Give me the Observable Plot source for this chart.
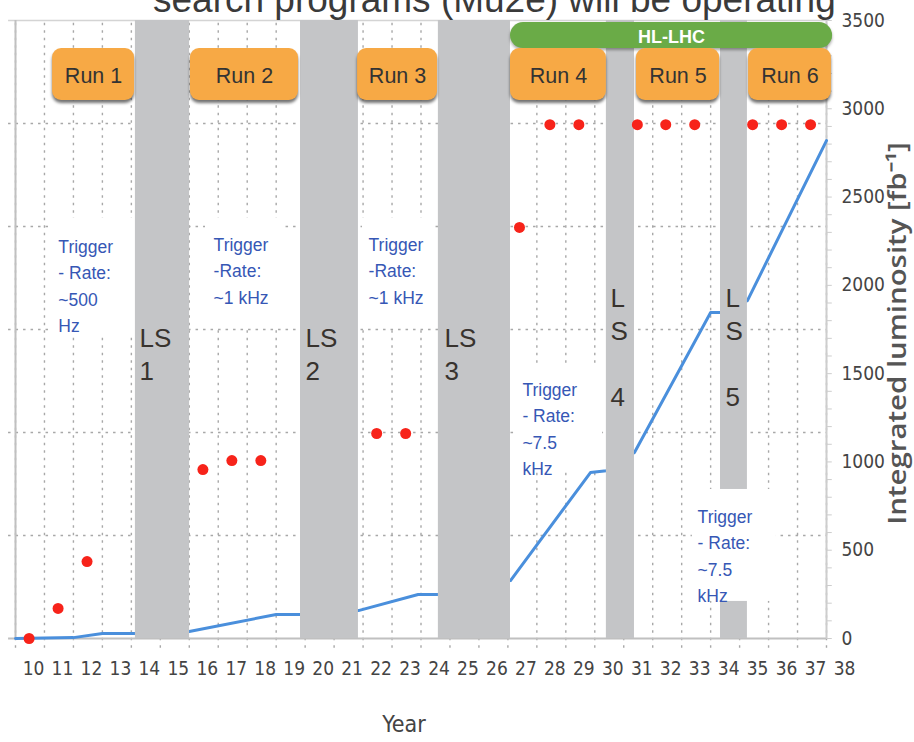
<!DOCTYPE html>
<html><head><meta charset="utf-8">
<script src="https://cdn.jsdelivr.net/npm/d3@7"></script>
<script src="https://cdn.jsdelivr.net/npm/@observablehq/plot@0.6"></script>
<style>
body{margin:0;background:#fff;width:914px;height:742px;overflow:hidden;position:relative;font-family:"Liberation Sans",Arial,sans-serif}
#title{position:absolute;left:153px;top:-19px;font-size:37px;line-height:37px;color:#3a3a3a;white-space:nowrap;z-index:2}
#chart{position:absolute;left:0;top:0}
</style></head><body>
<div id="title">search programs (Mu2e) will be operating</div>
<div id="chart"></div>
<script>
// ---- axis ticks ----
const yearTicks = [10,11,12,13,14,15,16,17,18,19,20,21,22,23,24,25,26,27,28,29,30,31,32,33,34,35,36,37,38];
const lumiTicks = [0,500,1000,1500,2000,2500,3000,3500];
const gridValues = [583.3,1166.7,1750,2333.3,2916.7];

// ---- integrated luminosity (fb^-1) ----
const lumiYear  = [10, 12, 13, 14.14, 16.0, 19.0, 19.84, 21.84, 23.9, 24.6, 27.09, 29.85, 30.4, 31.37, 34.0, 34.34, 35.27, 38];
const lumiValue = [0, 5, 28, 28, 40, 136, 136, 158, 249, 249, 328, 940, 950, 1053, 1846, 1846, 1914, 2820];

// ---- red dots ----
const dotYear  = [10.47, 11.47, 12.47, 16.47, 17.47, 18.47, 22.47, 23.47, 27.4, 28.45, 29.45, 31.47, 32.45, 33.45, 35.45, 36.45, 37.45];
const dotValue = [0, 170, 436, 957, 1008, 1008, 1161, 1161, 2328, 2910, 2910, 2910, 2910, 2910, 2910, 2910, 2910];

// ---- long shutdowns ----
const lsLabel = ["LS\n1", "LS\n2", "LS\n3", "L\nS\n\n4", "L\nS\n\n5"];
const lsStart = [14.14, 19.84, 24.6, 30.4, 34.34];
const lsEnd   = [16.01, 21.84, 27.09, 31.37, 35.27];
const lsTextX = [14.28, 20.01, 24.81, 30.54, 34.51];
const lsTextY = [1784, 1784, 1784, 2010, 2010];

// ---- runs ----
const runLabel = ["Run 1", "Run 2", "Run 3", "Run 4", "Run 5", "Run 6"];
const runStart = [11.28, 16.04, 21.81, 27.09, 31.44, 35.31];
const runEnd   = [14.11, 19.77, 24.57, 30.40, 34.31, 38.17];
const runBottom = 3047, runTop = 3341, runMid = 3183;
const hlLabel = ["HL-LHC"];
const hlStart = [27.09], hlEnd = [38.21], hlBottom = [3341], hlTop = [3488];

// ---- trigger notes ----
const trigText = ["Trigger\n- Rate:\n~500\nHz", "Trigger\n-Rate:\n~1 kHz", "Trigger\n-Rate:\n~1 kHz", "Trigger\n- Rate:\n~7.5\nkHz", "Trigger\n- Rate:\n~7.5\nkHz"];
const trigX = [11.48, 16.84, 22.19, 27.5, 33.55];
const trigY = [2288, 2300, 2300, 1478, 759];
const boxX1 = [11.14, 16.56, 21.98, 27.26, 33.37];
const boxX2 = [14.14, 19.22, 24.5, 30.27, 36.27];
const boxY1 = [1727, 1767, 1767, 951, 210];
const boxY2 = [2379, 2379, 2379, 1557, 844];

const yLabel = "Integrated luminosity [fb⁻¹]";

const lumi = lumiYear.map((x, i) => ({x, y: lumiValue[i]}));
const dots = dotYear.map((x, i) => ({x, y: dotValue[i]}));
const ls = lsLabel.map((t, i) => ({t, x1: lsStart[i], x2: lsEnd[i], tx: lsTextX[i], ty: lsTextY[i]}));
const runs = runLabel.map((t, i) => ({t, x1: runStart[i], x2: runEnd[i], cx: (runStart[i] + runEnd[i]) / 2}));
const hl = hlLabel.map((t, i) => ({t, x1: hlStart[i], x2: hlEnd[i], y1: hlBottom[i], y2: hlTop[i], cx: (hlStart[i] + hlEnd[i]) / 2, cy: (hlBottom[i] + hlTop[i]) / 2 - 8}));
const trig = trigText.map((t, i) => ({t, x: trigX[i], y: trigY[i], x1: boxX1[i], x2: boxX2[i], y1: boxY1[i], y2: boxY2[i]}));

const sans = "Liberation Sans, Arial, Helvetica, sans-serif";
const narrow = "Liberation Sans Narrow, Arial Narrow, DejaVu Sans Condensed, sans-serif";

const chart = Plot.plot({
  width: 914, height: 742,
  marginLeft: 15, marginRight: 88, marginTop: 20, marginBottom: 104,
  x: {domain: [10, 38]},
  y: {domain: [0, 3500]},
  style: {fontFamily: narrow, color: "#444", background: "#fff"},
  marks: [
    // grid
    Plot.ruleY(gridValues, {y: d => d, x1: 9.76, x2: 38, stroke: "#a8a8a8", strokeWidth: 1.4, strokeDasharray: "2.5,5"}),
    Plot.ruleX(yearTicks, {x: d => d, y1: -55, y2: 3500, stroke: "#a8a8a8", strokeWidth: 1.4, strokeDasharray: "2.5,5"}),
    Plot.ruleY([3500], {y: d => d, x1: 9.76, x2: 38, stroke: "#d4d4d4", strokeWidth: 1.5}),
    // axis lines
    Plot.ruleY([0], {y: d => d, x1: 9.76, x2: 38, stroke: "#c0c0c0", strokeWidth: 2}),
    Plot.ruleX([10], {x: d => d, y1: 0, y2: 3500, stroke: "#c0c0c0", strokeWidth: 2}),
    Plot.ruleX([38], {x: d => d, y1: 0, y2: 3500, stroke: "#cdcdcd", strokeWidth: 2}),
    Plot.ruleY(d3.range(0, 3501, 100), {y: d => d, x1: 38, x2: 38.2, stroke: "#cdcdcd", strokeWidth: 1}),
    // white note boxes (first four)
    Plot.rect(trig.slice(0, 4), {x1: "x1", x2: "x2", y1: "y1", y2: "y2", fill: "#fff"}),
    // luminosity line
    Plot.line(lumi, {x: "x", y: "y", stroke: "#4a8fdc", strokeWidth: 3}),
    // long shutdowns
    Plot.rect(ls, {x1: "x1", x2: "x2", y1: 0, y2: 3500, fill: "#c4c5c7"}),
    Plot.rect(trig.slice(4), {x1: "x1", x2: "x2", y1: "y1", y2: "y2", fill: "#fff"}),
    // red dots
    Plot.dot(dots, {x: "x", y: "y", r: 5.5, fill: "#f7231a", stroke: "none"}),
    // texts
    Plot.text(trig, {x: "x", y: "y", text: "t", textAnchor: "start", lineAnchor: "top", lineHeight: 1.5, fontSize: 17.5, fill: "#3657b5", fontFamily: sans}),
    Plot.text(ls, {x: "tx", y: "ty", text: "t", textAnchor: "start", lineAnchor: "top", lineHeight: 1.27, fontSize: 26, fill: "#38332e", fontFamily: sans}),
    // shadows
    Plot.rect(runs, {x1: "x1", x2: "x2", y1: runBottom, y2: runTop, fill: "#000", fillOpacity: 0.55, rx: 9, dy: 3}),
    Plot.rect(hl, {x1: "x1", x2: "x2", y1: "y1", y2: "y2", fill: "#000", fillOpacity: 0.35, rx: 13, dy: 2}),
    // run boxes
    Plot.rect(hl, {x1: "x1", x2: "x2", y1: "y1", y2: "y2", fill: "#6aab47", rx: 13}),
    Plot.rect(runs, {x1: "x1", x2: "x2", y1: runBottom, y2: runTop, fill: "#f7a945", rx: 9}),
    Plot.text(runs, {x: "cx", y: runMid, text: "t", fontSize: 21.5, fill: "#333", fontFamily: sans}),
    Plot.text(hl, {x: "cx", y: "cy", text: "t", fontSize: 18, fontWeight: "bold", fill: "#fff", fontFamily: sans}),
    // axes
    Plot.axisX({ticks: yearTicks, tickSize: 0, tickPadding: 23, dx: 18, fontSize: 19, label: null, tickFormat: d => String(d)}),
    Plot.axisY({anchor: "right", ticks: lumiTicks, tickSize: 0, tickPadding: 15, fontSize: 19, label: null, tickFormat: d => String(d)}),
    Plot.text(["Year"], {frameAnchor: "bottom", text: d => d, dx: -17, dy: 93, fontSize: 23, fill: "#444"}),
    Plot.text([yLabel], {frameAnchor: "right", textAnchor: "middle", lineAnchor: "middle", text: d => d, rotate: -90, dx: 72, dy: 4, fontSize: 24.5, fontWeight: 600, fill: "#555", fontFamily: "Open Sans, sans-serif"})
  ]
});

const svg = d3.select(chart);
const defs = svg.insert("defs", ":first-child");
defs.append("filter").attr("id", "sh").attr("x", "-10%").attr("y", "-30%").attr("width", "120%").attr("height", "160%")
  .append("feGaussianBlur").attr("stdDeviation", 1.6);
svg.selectAll("g").filter(function() { return this.getAttribute("fill") === "#000"; }).attr("filter", "url(#sh)");
svg.selectAll("text").filter(function() { return this.textContent === yLabel; }).each(function() {
  const el = d3.select(this);
  const tr = el.attr("transform") || "";
  el.attr("transform", tr + " scale(1.2,1)");
});
document.getElementById("chart").append(chart);
</script>
</body></html>
